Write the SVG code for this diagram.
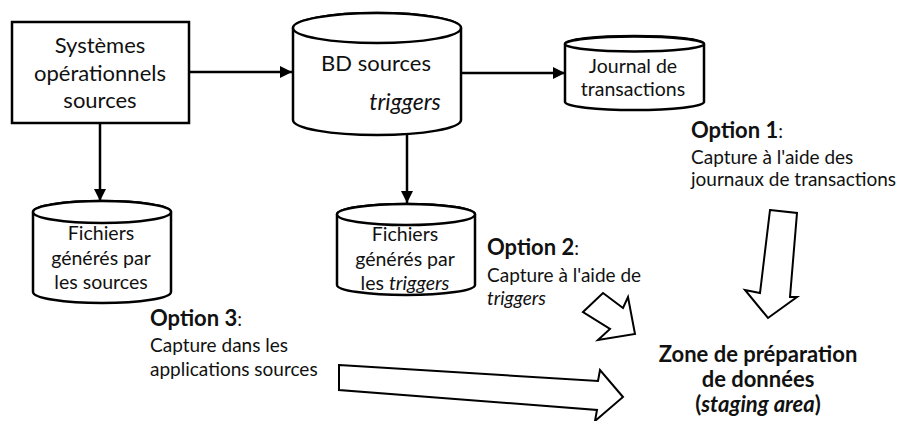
<svg xmlns="http://www.w3.org/2000/svg" width="902" height="421" viewBox="0 0 902 421">
<style>
  .shape{fill:#fff;stroke:#000;stroke-width:2.5}
  .edge{fill:none;stroke:#000;stroke-width:2.5}
  .block{fill:#fff;stroke:#000;stroke-width:2;stroke-linejoin:miter}
  text{font-family:Lato,"Open Sans","Liberation Sans",sans-serif;fill:#111}
  .lbl{font-size:19.5px;text-anchor:middle}
  .big{font-size:22px;text-anchor:middle}
  .opt{font-size:19px}
  .optb{font-weight:bold;font-size:22px}
  .zone{font-size:22px;font-weight:bold;text-anchor:middle}
  .it{font-style:italic}
</style>
<defs>
  <marker id="ah" markerWidth="12" markerHeight="12" refX="12" refY="6" orient="auto" markerUnits="userSpaceOnUse">
    <path d="M0,0 L12,6 L0,12 Z" fill="#000"/>
  </marker>
</defs>

<g id="connectors">
  <line class="edge" x1="189" y1="72" x2="292" y2="72" marker-end="url(#ah)"/>
  <line class="edge" x1="461" y1="73" x2="565" y2="73" marker-end="url(#ah)"/>
  <line class="edge" x1="100" y1="123" x2="100" y2="201" marker-end="url(#ah)"/>
  <line class="edge" x1="407" y1="123" x2="407" y2="203" marker-end="url(#ah)"/>
  <polygon id="arrow-opt1" class="block" points="770,210 797,213 790,297 797,297 768,318 745,290 760,293"/>
  <polygon id="arrow-opt2" class="block" points="583,312 603,293 623,308 628,297 635,334 598,340 610,329"/>
  <polygon id="arrow-opt3" class="block" points="339,365 598,381 600,370 623,397 595,421 597,410 339,390"/>
</g>

<g id="systemes">
  <rect class="shape" x="12" y="22" width="177" height="101"/>
  <text class="big" x="100" y="53">Systèmes</text>
  <text class="big" x="100" y="81">opérationnels</text>
  <text class="big" x="100" y="108">sources</text>
</g>

<g id="bd-sources">
  <path class="shape" d="M293,28 L293,120 A84,15 0 0 0 461,120 L461,28 A84,15 0 0 0 293,28 Z"/>
  <ellipse class="shape" cx="377" cy="28" rx="84" ry="15"/>
  <text class="big" x="376" y="71">BD sources</text>
  <text class="big it" x="405" y="110" style="font-size:23px">triggers</text>
</g>

<g id="journal">
  <path class="shape" d="M565,44 L565,102 A69.5,8 0 0 0 704,102 L704,44 A69.5,8 0 0 0 565,44 Z"/>
  <ellipse class="shape" cx="634.5" cy="44" rx="69.5" ry="7.5"/>
  <text class="lbl" x="633" y="73">Journal de</text>
  <text class="lbl" x="633" y="96">transactions</text>
</g>

<g id="fichiers-sources">
  <path class="shape" d="M33,212 L33,292 A69,11 0 0 0 171,292 L171,212 A69,11 0 0 0 33,212 Z"/>
  <ellipse class="shape" cx="102" cy="212" rx="69" ry="11"/>
  <text class="lbl" x="101" y="240">Fichiers</text>
  <text class="lbl" x="101" y="265">générés par</text>
  <text class="lbl" x="101" y="289">les sources</text>
</g>

<g id="fichiers-triggers">
  <path class="shape" d="M337,214.5 L337,285 A69,10 0 0 0 475,285 L475,214.5 A69,10.5 0 0 0 337,214.5 Z"/>
  <ellipse class="shape" cx="406" cy="214.5" rx="69" ry="10.5"/>
  <text class="lbl" x="405" y="241">Fichiers</text>
  <text class="lbl" x="405" y="266">générés par</text>
  <text class="lbl" x="405" y="290">les <tspan class="it">triggers</tspan></text>
</g>

<g id="option1">
  <text x="691" y="138"><tspan class="optb">Option 1</tspan><tspan class="opt">:</tspan></text>
  <text class="opt" x="691" y="164">Capture à l'aide des</text>
  <text class="opt" x="691" y="186">journaux de transactions</text>
</g>

<g id="option2">
  <text x="487" y="255"><tspan class="optb">Option 2</tspan><tspan class="opt">:</tspan></text>
  <text class="opt" x="487" y="282">Capture à l'aide de</text>
  <text class="opt it" x="487" y="305">triggers</text>
</g>

<g id="option3">
  <text x="150" y="326"><tspan class="optb">Option 3</tspan><tspan class="opt">:</tspan></text>
  <text class="opt" x="150" y="352">Capture dans les</text>
  <text class="opt" x="150" y="376">applications sources</text>
</g>

<g id="zone">
  <text class="zone" x="758" y="362">Zone de préparation</text>
  <text class="zone" x="758" y="387">de données</text>
  <text class="zone" x="758" y="412">(<tspan class="it">staging area</tspan>)</text>
</g>
</svg>
